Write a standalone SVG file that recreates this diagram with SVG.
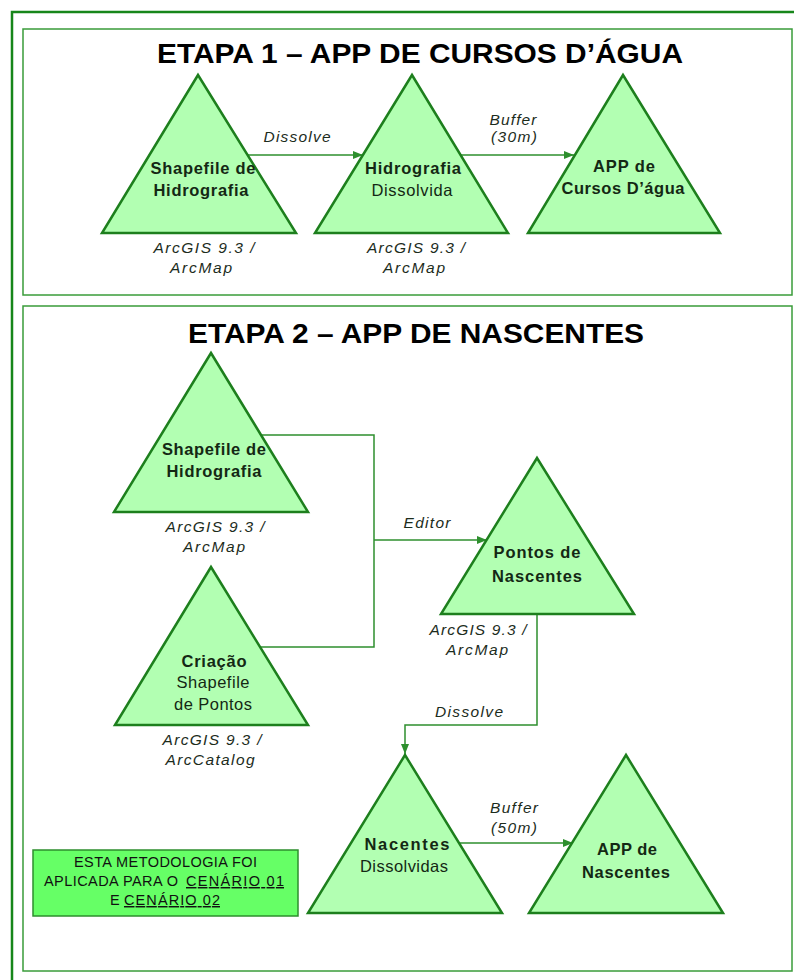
<svg xmlns="http://www.w3.org/2000/svg" width="794" height="980" viewBox="0 0 794 980">
<defs>
<style>
.frame{fill:none;stroke:#17861a;stroke-width:2.5}
.panel{fill:none;stroke:#3a9c3a;stroke-width:1.5}
.tri{fill:#b2ffb2;stroke:#1d7f1d;stroke-width:2.5;stroke-linejoin:miter}
.con{fill:none;stroke:#2e8f2e;stroke-width:1.5}
.title{font-family:"Liberation Sans",Arial,sans-serif;font-weight:bold;font-size:28px;fill:#000}
.b{font-family:"Liberation Sans",Arial,sans-serif;font-weight:bold;font-size:16.5px;fill:#142814;text-anchor:middle}
.r{font-family:"Liberation Sans",Arial,sans-serif;font-size:16.5px;fill:#142814;text-anchor:middle}
.lab{font-family:"Liberation Sans",Arial,sans-serif;font-style:italic;font-size:15.5px;fill:#1c2c1c;text-anchor:middle}
.note{font-family:"Liberation Sans Narrow","Liberation Sans",Arial,sans-serif;font-size:14.5px;fill:#111}
.notebox{fill:#66ff66;stroke:#2e8f2e;stroke-width:1.5}
</style>
<marker id="ah" markerUnits="userSpaceOnUse" markerWidth="10" markerHeight="8" refX="10" refY="4" orient="auto">
<path d="M0,0 L10,4 L0,8 z" fill="#2e8f2e"/>
</marker>
</defs>
<rect x="0" y="0" width="794" height="980" fill="#fff"/>
<rect class="frame" x="12" y="12" width="792" height="990"/>
<rect class="panel" x="23" y="29" width="769" height="266"/>
<rect class="panel" x="23" y="306" width="769" height="665"/>

<text class="title" x="157" y="63" textLength="526" lengthAdjust="spacingAndGlyphs">ETAPA 1 – APP DE CURSOS D’ÁGUA</text>
<text class="title" x="188" y="343" textLength="456" lengthAdjust="spacingAndGlyphs">ETAPA 2 – APP DE NASCENTES</text>

<g id="connectors">
<line class="con" x1="248" y1="155" x2="363" y2="155" marker-end="url(#ah)"/>
<text class="lab" x="297" y="142" textLength="67">Dissolve</text>
<line class="con" x1="461" y1="155" x2="574" y2="155" marker-end="url(#ah)"/>
<text class="lab" x="513" y="125" textLength="47">Buffer</text>
<text class="lab" x="514" y="142" textLength="46">(30m)</text>
<polyline class="con" points="261,435 374,435 374,647 260,647"/>
<line class="con" x1="374" y1="540" x2="487" y2="540" marker-end="url(#ah)"/>
<text class="lab" x="427" y="528" textLength="47">Editor</text>
<polyline class="con" points="537,614 537,725 405,725 405,754" marker-end="url(#ah)"/>
<text class="lab" x="469" y="717" textLength="68">Dissolve</text>
<line class="con" x1="459" y1="843" x2="573" y2="843" marker-end="url(#ah)"/>
<text class="lab" x="514" y="813" textLength="48">Buffer</text>
<text class="lab" x="514" y="833" textLength="46">(50m)</text>
</g>

<g id="n1">
<polygon class="tri" points="198,75 296,233 102,233"/>
<text class="b" x="203" y="174" textLength="105">Shapefile de</text>
<text class="b" x="201" y="196" textLength="95">Hidrografia</text>
<text class="lab" x="204" y="253" textLength="101">ArcGIS 9.3 /</text>
<text class="lab" x="201" y="273" textLength="62">ArcMap</text>
</g>
<g id="n2">
<polygon class="tri" points="412,75 508,233 315,233"/>
<text class="b" x="413" y="174" textLength="96">Hidrografia</text>
<text class="r" x="412" y="196" textLength="81">Dissolvida</text>
<text class="lab" x="416" y="253" textLength="98">ArcGIS 9.3 /</text>
<text class="lab" x="414" y="273" textLength="62">ArcMap</text>
</g>
<g id="n3">
<polygon class="tri" points="623,75 720,233 528,233"/>
<text class="b" x="624" y="172" textLength="62">APP de</text>
<text class="b" x="623" y="194" textLength="123">Cursos D’água</text>
</g>

<g id="n4">
<polygon class="tri" points="211,353 308,512 114,512"/>
<text class="b" x="214" y="455" textLength="104">Shapefile de</text>
<text class="b" x="214" y="477" textLength="95">Hidrografia</text>
<text class="lab" x="215" y="532" textLength="99">ArcGIS 9.3 /</text>
<text class="lab" x="214" y="552" textLength="62">ArcMap</text>
</g>
<g id="n5">
<polygon class="tri" points="211,567 308,725 115,725"/>
<text class="b" x="214" y="667" textLength="65">Criação</text>
<text class="r" x="213" y="688" textLength="73">Shapefile</text>
<text class="r" x="213" y="710" textLength="78">de Pontos</text>
<text class="lab" x="212" y="745" textLength="99">ArcGIS 9.3 /</text>
<text class="lab" x="210" y="765" textLength="89">ArcCatalog</text>
</g>
<g id="n6">
<polygon class="tri" points="537,458 634,614 441,614"/>
<text class="b" x="537" y="558" textLength="87">Pontos de</text>
<text class="b" x="537" y="582" textLength="90">Nascentes</text>
<text class="lab" x="478" y="635" textLength="97">ArcGIS 9.3 /</text>
<text class="lab" x="477" y="655" textLength="62">ArcMap</text>
</g>
<g id="n7">
<polygon class="tri" points="405,755 502,913 308,913"/>
<text class="b" x="407" y="850" textLength="85">Nacentes</text>
<text class="r" x="404" y="872" textLength="88">Dissolvidas</text>
</g>
<g id="n8">
<polygon class="tri" points="626,755 723,913 529,913"/>
<text class="b" x="627" y="855" textLength="60">APP de</text>
<text class="b" x="626" y="878" textLength="88">Nascentes</text>
</g>

<g id="note">
<rect class="notebox" x="33" y="850" width="265" height="66"/>
<text class="note" x="74" y="867" textLength="183">ESTA METODOLOGIA FOI</text>
<text class="note" x="44" y="886" textLength="134">APLICADA PARA O</text>
<text class="note" x="186" y="886" textLength="98" text-decoration="underline">CENÁRIO 01</text>
<text class="note" x="110" y="905" textLength="8">E</text>
<text class="note" x="124" y="905" textLength="96" text-decoration="underline">CENÁRIO 02</text>
</g>
</svg>
